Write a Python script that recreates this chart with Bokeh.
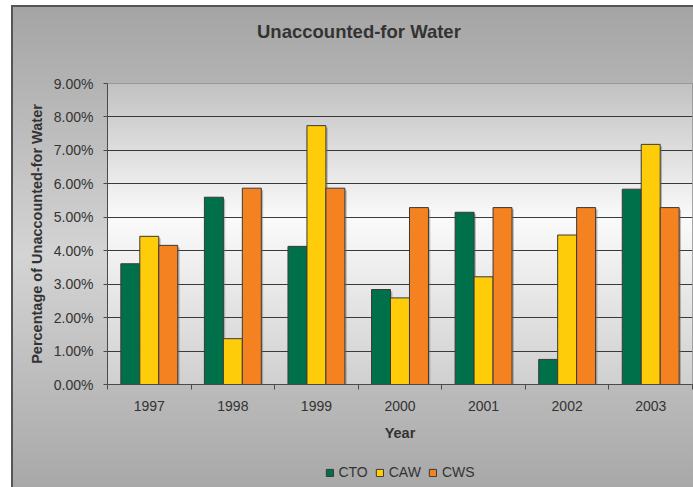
import numpy as np
from bokeh.plotting import figure
from bokeh.layouts import column
from bokeh.models import (Range1d, FixedTicker, NumeralTickFormatter, Legend,
                          LegendItem, ColumnDataSource, Div)
from bokeh.embed import file_html
from bokeh.resources import INLINE

# Unaccounted-for water, share of production per system and year
years = ["1997", "1998", "1999", "2000", "2001", "2002", "2003"]
cto = [0.0361, 0.0560, 0.0413, 0.0284, 0.0515, 0.0075, 0.0584]
caw = [0.0443, 0.0137, 0.0774, 0.0259, 0.0322, 0.0447, 0.0718]
cws = [0.0416, 0.0587, 0.0587, 0.0529, 0.0529, 0.0529, 0.0529]
series_names = ["CTO", "CAW", "CWS"]
y_ticks = [0.00, 0.01, 0.02, 0.03, 0.04, 0.05, 0.06, 0.07, 0.08, 0.09]

FONT = "Liberation Sans"
TEXT = "#333333"
colors = ["#00704A", "#FFCC0A", "#F58220"]
bar_w = 0.227
offsets = [-bar_w, 0.0, bar_w]

centers = [i + 0.5 for i in range(len(years))]

# chart title strip
title = Div(text="Unaccounted-for Water", width=682, height=54, margin=0,
            styles={"font-family": FONT, "font-size": "18.5px",
                    "font-weight": "bold", "color": TEXT,
                    "line-height": "54px", "text-indent": "246px",
                    "white-space": "nowrap"})

p = figure(width=682, height=398, output_backend="svg", toolbar_location=None,
           title_location=None,
           x_range=Range1d(0, len(years)), y_range=Range1d(0, 0.09),
           min_border_left=96, min_border_right=1, min_border_top=24,
           min_border_bottom=73)
p.border_fill_alpha = 0
p.background_fill_alpha = 0
p.outline_line_color = "#8c8c8c"
p.outline_line_width = 1

# plot-area shading: grey at the edges, nearly white just above the middle
n = 300
pos = np.linspace(0, 1, n)
grey = np.interp(pos, [0.0, 0.55, 1.0], [208, 251, 194]).astype(np.uint8)
img = np.empty((n, 1), dtype=np.uint32)
view = img.view(dtype=np.uint8).reshape((n, 1, 4))
view[:, 0, 0] = grey
view[:, 0, 1] = grey
view[:, 0, 2] = grey
view[:, 0, 3] = 255
p.image_rgba(image=[img], x=0, y=0, dw=len(years), dh=0.09, level="image")

# bars
for vals, name, color, off in zip([cto, caw, cws], series_names, colors, offsets):
    xs = [c + off for c in centers]
    src = ColumnDataSource(dict(x=xs, top=vals))
    shadow = ColumnDataSource(dict(x=[x + 0.022 for x in xs],
                                   top=[v - 0.0006 for v in vals]))
    p.vbar(x="x", top="top", bottom=0, width=bar_w, source=shadow,
           fill_color="#6e6e6e", fill_alpha=0.45, line_color=None)
    p.vbar(x="x", top="top", bottom=0, width=bar_w, source=src,
           fill_color=color, line_color="#3a3a3a", line_width=1)

# grid
p.xgrid.visible = False
p.ygrid.grid_line_color = "#3a3a3a"
p.ygrid.grid_line_width = 1

# y axis
ya = p.yaxis[0]
ya.ticker = FixedTicker(ticks=y_ticks)
ya.formatter = NumeralTickFormatter(format="0.00%")
ya.axis_line_color = "#4a4a4a"
ya.major_tick_line_color = "#4a4a4a"
ya.major_tick_in = 0
ya.major_tick_out = 4
ya.minor_tick_line_color = None
ya.major_label_standoff = 10
ya.major_label_text_font = FONT
ya.major_label_text_font_size = "14px"
ya.major_label_text_color = TEXT
ya.axis_label = "Percentage of Unaccounted-for Water"
ya.axis_label_text_font = FONT
ya.axis_label_text_font_size = "14.5px"
ya.axis_label_text_font_style = "bold"
ya.axis_label_text_color = TEXT
ya.axis_label_standoff = 6

# x axis: labels centred on the years, tick marks between them
xa = p.xaxis[0]
xa.ticker = FixedTicker(ticks=centers, minor_ticks=list(range(len(years) + 1)))
xa.major_label_overrides = {c: y for c, y in zip(centers, years)}
xa.axis_line_color = "#4a4a4a"
xa.major_tick_line_color = None
xa.major_tick_in = 0
xa.major_tick_out = 0
xa.minor_tick_line_color = "#4a4a4a"
xa.minor_tick_in = 0
xa.minor_tick_out = 5
xa.major_label_standoff = 11
xa.major_label_text_font = FONT
xa.major_label_text_font_size = "14px"
xa.major_label_text_color = TEXT
xa.axis_label = "Year"
xa.axis_label_text_font = FONT
xa.axis_label_text_font_size = "14.5px"
xa.axis_label_text_font_style = "bold"
xa.axis_label_text_color = TEXT
xa.axis_label_standoff = 11

# legend strip under the chart, aligned with the plot area;
# its swatch renderers sit outside the strip's visible range
lf = figure(width=682, height=30, output_backend="svg", toolbar_location=None,
            title_location=None,
            x_range=Range1d(0, 1), y_range=Range1d(0, 1),
            min_border_left=96, min_border_right=1, min_border_top=0,
            min_border_bottom=0)
lf.axis.visible = False
lf.grid.visible = False
lf.outline_line_color = None
lf.border_fill_alpha = 0
lf.background_fill_alpha = 0
items = []
for name, color in zip(series_names, colors):
    r = lf.vbar(x=[-5], top=[-4], bottom=-5, width=0.1, fill_color=color,
                line_color="#3a3a3a", line_width=1)
    items.append(LegendItem(label=name, renderers=[r]))
legend = Legend(items=items, orientation="horizontal", location="center",
                glyph_width=9, glyph_height=9, label_standoff=5, spacing=7,
                padding=0, margin=0, background_fill_alpha=0,
                border_line_alpha=0, label_text_font=FONT,
                label_text_font_size="14px", label_text_color=TEXT)
lf.add_layout(legend, "center")

chart = column(title, p, lf, spacing=0)
chart.margin = (5, 0, 0, 11)
chart.styles = {
    "background": "linear-gradient(to bottom, #a4a4a4 0%, #d4d4d4 52%, #a8a8a8 100%)",
    "box-shadow": "inset 2px 2px 0 #555555",
}

open("out.html", "w").write(file_html(chart, INLINE))
